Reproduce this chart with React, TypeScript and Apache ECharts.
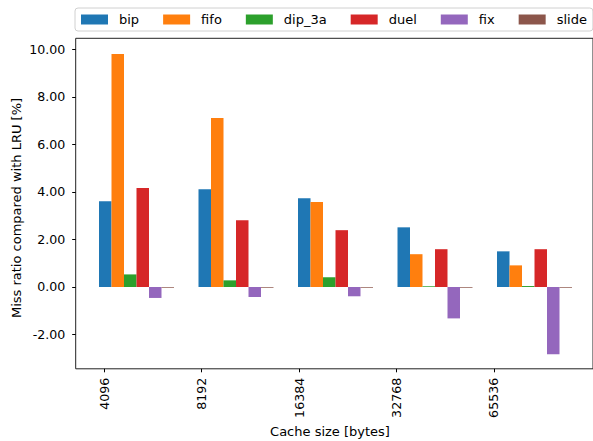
import React, { useEffect, useRef } from "react";
import * as echarts from "echarts";

const cacheSizes = ["4096", "8192", "16384", "32768", "65536"];
const seriesNames = ["bip", "fifo", "dip_3a", "duel", "fix", "slide"];
const bip = [3.61, 4.11, 3.73, 2.51, 1.5];
const fifo = [9.8, 7.11, 3.57, 1.38, 0.91];
const dip3a = [0.53, 0.28, 0.41, 0.03, 0.04];
const duel = [4.16, 2.81, 2.39, 1.59, 1.59];
const fix = [-0.46, -0.42, -0.39, -1.32, -2.83];
const slide = [-0.03, -0.03, -0.03, -0.03, -0.03];
const yTicks = [-2, 0, 2, 4, 6, 8, 10];
const colors = ["#1f77b4", "#ff7f0e", "#2ca02c", "#d62728", "#9467bd", "#8c564b"];

const FONT = "DejaVu Sans";

export default function App() {
  const ref = useRef<HTMLDivElement>(null);
  useEffect(() => {
    if (!ref.current) return;
    const chart = echarts.init(ref.current, undefined, { renderer: "svg" });
    const values = [bip, fifo, dip3a, duel, fix, slide];
    const FRAME_TOP = 38.3;
    const FRAME_H = 330.5;
    const option: any = {
      animation: false,
      backgroundColor: "#ffffff",
      textStyle: { fontFamily: FONT },
      legend: {
        data: seriesNames,
        left: 75,
        top: 8,
        icon: "rect",
        itemWidth: 27,
        itemHeight: 10,
        itemGap: 24,
        padding: [5, 6],
        borderColor: "#d0d0d0",
        borderWidth: 1,
        borderRadius: 3,
        backgroundColor: "#ffffff",
        textStyle: { fontFamily: FONT, fontSize: 13, color: "#000", padding: [0, 0, 0, 6] },
      },
      grid: [
        { left: 75.7, top: FRAME_TOP, width: 540, height: FRAME_H, show: true, borderColor: "#222", borderWidth: 1, backgroundColor: "transparent" },
        { left: 86.75, top: FRAME_TOP, width: 497.5, height: FRAME_H },
        { left: 55.6, top: FRAME_TOP, width: 487, height: FRAME_H },
        { left: 75.7, top: 49.3, width: 10, height: 285.2 },
      ],
      xAxis: [
        { gridIndex: 0, type: "value", show: false, min: 0, max: 1 },
        { gridIndex: 1, type: "category", data: cacheSizes, show: false, boundaryGap: true },
        {
          gridIndex: 2,
          type: "category",
          data: cacheSizes,
          boundaryGap: true,
          axisLine: { show: false },
          axisTick: { show: true, alignWithLabel: true, length: 3.5, lineStyle: { color: "#000", width: 1 } },
          axisLabel: { rotate: 90, margin: 9, fontFamily: FONT, fontSize: 12.6, color: "#000" },
        },
        { gridIndex: 3, type: "value", show: false, min: 0, max: 1 },
      ],
      yAxis: [
        { gridIndex: 0, type: "value", show: false, min: 0, max: 1 },
        { gridIndex: 1, type: "value", show: false, min: -3.44, max: 10.46 },
        { gridIndex: 2, type: "value", show: false, min: 0, max: 1 },
        {
          gridIndex: 3,
          type: "value",
          min: yTicks[0],
          max: yTicks[yTicks.length - 1],
          interval: 2,
          splitLine: { show: false },
          axisLine: { show: false },
          axisTick: { show: true, length: 3.5, lineStyle: { color: "#000", width: 1 } },
          axisLabel: {
            margin: 10.4,
            fontFamily: FONT,
            fontSize: 12.6,
            color: "#000",
            formatter: (v: number) => v.toFixed(2),
          },
        },
      ],
      series: seriesNames.map((name, i) => ({
        name,
        type: "bar",
        xAxisIndex: 1,
        yAxisIndex: 1,
        data: values[i],
        barWidth: 12.5,
        barGap: "0%",
        itemStyle: { color: colors[i] },
        emphasis: { disabled: true },
      })),
      graphic: [
        {
          type: "text",
          x: 16,
          y: 208,
          rotation: Math.PI / 2,
          style: {
            text: "Miss ratio compared with LRU [%]",
            fontFamily: FONT,
            fontSize: 13,
            fill: "#000",
            textAlign: "center",
            textVerticalAlign: "middle",
          },
        },
        {
          type: "text",
          x: 330,
          y: 431,
          style: {
            text: "Cache size [bytes]",
            fontFamily: FONT,
            fontSize: 13,
            fill: "#000",
            textAlign: "center",
            textVerticalAlign: "middle",
          },
        },
      ],
    };
    chart.setOption(option);
    return () => chart.dispose();
  }, []);
  return (
    <div
      ref={ref}
      style={{ position: "fixed", left: 0, top: 0, width: 593, height: 441, background: "#fff" }}
    />
  );
}
